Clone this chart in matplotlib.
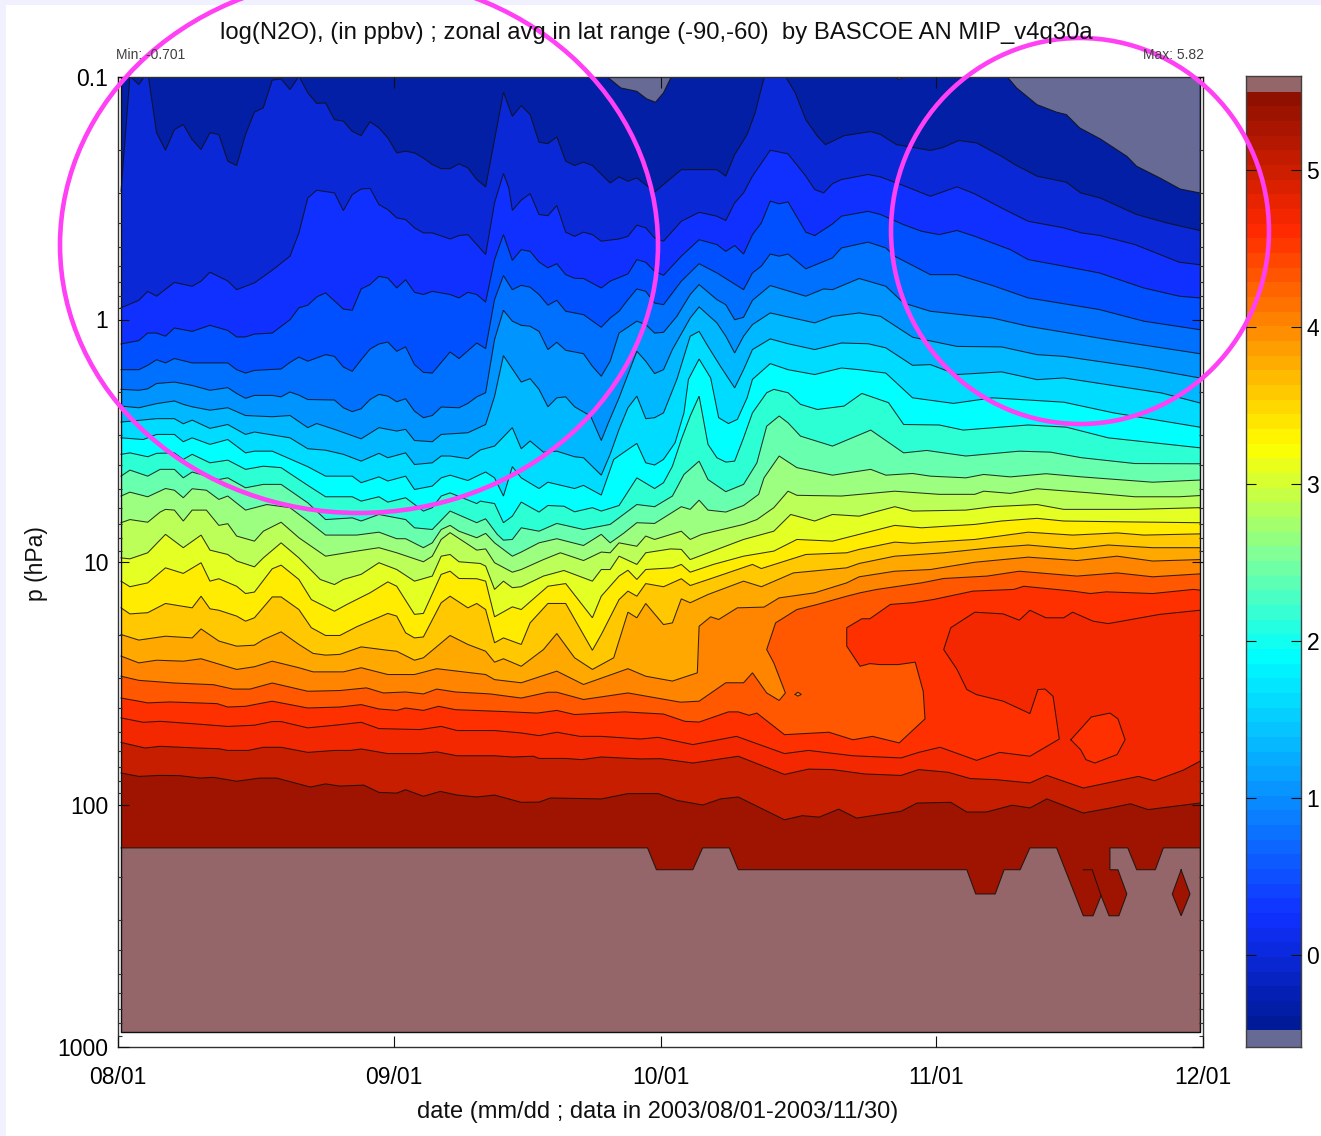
import numpy as np
import matplotlib
matplotlib.use("Agg")
import matplotlib.pyplot as plt
from matplotlib.colors import LinearSegmentedColormap
from matplotlib.patches import Ellipse, Rectangle

plt.rcParams['font.family'] = ['Liberation Sans', 'DejaVu Sans']

W, H = 1321, 1136

#%% isolines of log(N2O): days since the first data column, log10(p in hPa)
days_01 = [0,1,2,3,4,5,6,7,8,9,10,11,12,13,14,15,16,17,18,19,20,21,22,23,24,25,26,27,28,29,30,31,32,33,34,35,36,37,38,39,40,41,42,43,44,45,46,47,48,49,50,51,52,53,55,56,57,58,60,63,67,68,69,70.4,71.3,72.3,72.5,74.5,74.7,75.8,77,78.3,79.2,81.3,84.3,85.4,87.2,89.3,91,92.3,94.2,96.2,99.2,100.5,103,106.3,107.9,110.1,114.2,117.6,121.3]
logp_01 = [-.529,-1.003,-.969,-1.02,-.770,-.698,-.783,-.804,-.742,-.701,-.770,-.763,-.653,-.635,-.763,-.855,-.873,-.987,-.992,-.948,-1.003,-.935,-.891,-.893,-.824,-.818,-.776,-.758,-.815,-.790,-.749,-.687,-.694,-.687,-.666,-.639,-.622,-.622,-.642,-.625,-.577,-.547,-.742,-.937,-.838,-.882,-.845,-.731,-.725,-.753,-.653,-.635,-.649,-.635,-.563,-.588,-.570,-.584,-.526,-.618,-.618,-.591,-.680,-.763,-.852,-.996,-1.01,-1.01,-1.003,-.935,-.824,-.756,-.721,-.758,-.775,-.763,-.721,-.708,-.697,-.708,-.738,-.728,-.669,-.639,-.591,-.566,-.522,-.501,-.433,-.398,-.367]

days_02 = [0,2,3,4,6,8,9,10,12,13,15,17,19,20,21,22,24,25,26,27,28,29,30,31,32,33,34,35,37,38,39,40,41,42,43,43.6,44,45,46,47,48,49,50,51,52,53,54,56,57,58,59,60,61,63,65,67,68,69,70,71,73,75,77,78,79,80,81,84,85.4,88,91,94,96,99,102,106,108,110,114,119,121.3]
logp_02 = [-.048,-.079,-.116,-.096,-.153,-.137,-.158,-.195,-.159,-.123,-.151,-.203,-.261,-.357,-.501,-.533,-.522,-.449,-.515,-.538,-.541,-.474,-.453,-.419,-.412,-.378,-.357,-.357,-.332,-.346,-.350,-.309,-.268,-.481,-.602,-.543,-.450,-.492,-.519,-.433,-.428,-.470,-.360,-.343,-.360,-.350,-.323,-.332,-.343,-.389,-.378,-.336,-.323,-.405,-.442,-.426,-.408,-.481,-.522,-.591,-.698,-.683,-.591,-.536,-.522,-.560,-.577,-.598,-.588,-.552,-.508,-.547,-.518,-.460,-.405,-.378,-.357,-.347,-.309,-.236,-.226]

days_03 = [0,2,3,4,5,6,8,10,12,13,14,15,17,19,20,21,22,23,25,26,27,28,29,30,31,32,33,34,35,37,38,39,40,41,42,43,44,45,46,47,48,49,50,51,52,54,55,57,58,59,60,61,63,65,67,68,69,70,71,72,73,74,75,77,78,80,81,84,85.4,88,90,92,94,96,100,102,106,110,115,119,121.3]
logp_03 = [.101,.087,.056,.056,.069,.035,.049,.024,.045,.072,.072,.060,.056,.001,-.048,-.059,-.093,-.110,-.043,-.038,-.126,-.144,-.178,-.171,-.130,-.164,-.112,-.103,-.116,-.103,-.089,-.112,-.103,-.072,-.247,-.350,-.244,-.288,-.281,-.237,-.213,-.230,-.185,-.170,-.169,-.130,-.158,-.188,-.247,-.236,-.199,-.182,-.261,-.329,-.309,-.281,-.305,-.270,-.350,-.398,-.488,-.477,-.485,-.360,-.346,-.394,-.426,-.446,-.433,-.391,-.364,-.350,-.367,-.343,-.288,-.247,-.220,-.192,-.130,-.096,-.089]

days_04 = [0,2,3,4,5,6,8,12,13,14,15,18,19,20,21,23,24,25,26,27,28,29,30,31,32,33,34,35,37,38,40,41,42,43,44,45,46,47,48,49,50,52,54,55,56,57,58,59,60,61,63,65,67,70,71,72,73,74,75,77,80,81,84,86,87,91,94,98,102,110,115,121.3]
logp_04 = [.207,.207,.189,.166,.179,.161,.179,.179,.207,.221,.210,.204,.177,.155,.172,.145,.152,.196,.214,.166,.122,.101,.093,.131,.113,.186,.218,.221,.134,.161,.097,.120,-.082,-.181,-.123,-.141,-.133,-.103,-.059,-.079,-.034,-.020,.032,-.006,-.034,-.082,-.126,-.116,-.068,-.061,-.158,-.230,-.192,-.123,-.192,-.220,-.270,-.261,-.270,-.209,-.254,-.295,-.319,-.295,-.261,-.185,-.185,-.140,-.089,-.041,.007,.042]

days_05 = [0,2,3,4,6,8,10,12,13,14,15,17,18,19,20,21,24,25,26,27,28,29,30,31,32,33,34,35,36,38,39,40,41,42,43,44,45,46,47,48,49,50,52,53,54,55,56,58,59,60,61,62.5,64,65,67,68,69,70,71,73,77,79,80,83,86,88,91,98,102,111,121.3]
logp_05 = [.288,.292,.286,.264,.258,.272,.292,.281,.305,.325,.313,.313,.319,.299,.312,.330,.332,.364,.380,.368,.330,.309,.316,.339,.327,.378,.405,.396,.361,.364,.346,.319,.302,.083,-.038,.007,.024,.028,.049,.124,.094,.127,.141,.193,.234,.172,.056,.007,.021,.056,.053,-.013,-.103,-.144,-.082,-.061,.001,-.009,-.079,-.140,-.096,-.126,-.123,-.169,-.137,-.068,-.034,-.006,.028,.083,.141]

days_06 = [0,2,4,6,7,8,10,12,14,17,19,21,22,24,27,29,31,32,33,35,36,39,41,42,43,45,46,47,48,49,50,51,52.8,54,54.8,56,58,59,60,61,62,64,65,67,68,69,70,71,73,78,80,83,85.4,89,94,99,103,106,115,121.3]
logp_06 = [.357,.364,.347,.336,.350,.360,.374,.364,.396,.401,.396,.446,.429,.453,.492,.446,.460,.453,.499,.504,.474,.467,.433,.317,.149,.258,.244,.288,.360,.323,.319,.360,.398,.499,.426,.323,.131,.172,.223,.207,.124,-.006,-.052,.014,.069,.138,.069,.021,-.027,.014,-.013,-.027,-.013,.073,.111,.113,.145,.152,.200,.241]

days_07 = [0,4,6,7,8,10,12,14,15,19,21,23,25,27,29,30,32,33,35,36,37,39,40.4,42,44,45,46,47.5,49,51,52,54,55,56,57,58,59,60,61,62.5,64,65,66,67.4,69,70,71,73,75,78,81,84,86,89,91,94,99,103,106,117,121.3]
logp_07 = [.423,.409,.409,.430,.415,.449,.433,.474,.464,.488,.533,.539,.556,.584,.552,.570,.550,.598,.591,.563,.563,.574,.538,.522,.446,.533,.501,.547,.543,.566,.570,.642,.556,.453,.364,.316,.409,.405,.385,.247,.069,.049,.111,.193,.282,.207,.124,.080,.100,.124,.097,.100,.117,.189,.186,.227,.216,.248,.241,.303,.344]

days_08 = [0,2.5,4,6,7,8,10,12,14,15,17,21,23,26,27,29,30,32,33,35,36,37,39,40.4,41,42,43,44,45,47,48,51,52,54,55.4,57,58,59,60,61,62.3,63.3,63.8,65,66.3,67.2,68.3,69.3,70.4,71,73,75,78,81,83,86,89,93.6,98,106,111.6,121.3]
logp_08 = [.488,.495,.474,.474,.504,.488,.515,.495,.550,.543,.543,.607,.646,.646,.673,.649,.666,.646,.701,.687,.653,.642,.664,.639,.629,.653,.728,.607,.653,.697,.671,.697,.684,.724,.577,.536,.511,.591,.600,.577,.508,.385,.247,.163,.241,.405,.429,.412,.323,.247,.182,.207,.227,.200,.207,.221,.323,.346,.323,.341,.385,.444]

days_09 = [0,1,3,4,6,7,8,10,12,14,16,18,21,23,26,27,29,30,32,34,35,36,37,40,40.4,42,43,44,45,47,48,49.8,51,53,54,56,58,60,61,62,63,64,65,66,67,68,69,70,71,72.6,73.4,75,76.4,78.3,81.3,83.3,86.3,88,92,94.7,102,106.3,111,121.3]
logp_09 = [.556,.550,.566,.552,.550,.577,.556,.591,.580,.618,.605,.611,.684,.731,.731,.749,.731,.753,.735,.790,.776,.728,.715,.759,.749,.759,.838,.811,.753,.794,.767,.770,.793,.776,.790,.767,.653,.697,.673,.605,.495,.398,.316,.515,.570,.588,.584,.488,.385,.302,.288,.302,.350,.371,.357,.305,.343,.433,.435,.456,.435,.444,.488,.529]

days_10 = [0,1,3,4.4,6,7,8,11,12,14,16,18,21,23,26,27,29,32,33,35,37,40,40.4,41,42.3,43,44,45,47,49,52,55,58,60,62,63.3,65,66,68,70,71.5,72.6,74,75,76.4,80,84.3,85.4,88,90.6,95,101,104.5,108,114,121.3]
logp_10 = [.646,.621,.646,.618,.618,.653,.629,.660,.653,.694,.680,.680,.756,.825,.818,.831,.804,.825,.859,.866,.790,.838,.831,.822,.886,.910,.907,.859,.873,.841,.866,.845,.763,.772,.728,.639,.584,.660,.710,.680,.591,.440,.398,.426,.481,.522,.456,.484,.550,.540,.563,.543,.547,.570,.594,.595]

days_11 = [0,1,3,5,6,7,8,9.6,11,12,14,16.4,19,21,23,26.5,29,31,32,34,35,36,37,38,40,41,42,44,45,47,49,52,54,55,56.5,58,60,63,64,65,66,68,70,71.7,72.3,74,76,80,84.3,86,89,91,95,97,100,104,108,116,121.3]
logp_11 = [.728,.712,.731,.697,.704,.735,.698,.704,.742,.728,.786,.763,.776,.831,.889,.889,.877,.904,.904,.941,.921,.866,.849,.873,.900,.882,.921,.976,.959,.921,.904,.932,.886,.921,.882,.838,.841,.772,.783,.745,.786,.794,.767,.721,.653,.563,.611,.642,.618,.642,.635,.646,.653,.639,.649,.636,.649,.671,.662]

days_12 = [0,1,3,4.4,5,6,7,8,9.6,11,12,13,15,16,18,20,23,26.5,29,31,34,35,36,37,40,41,42,44,45,47.5,49.4,52,54,55,56,58,59,60,63,64,65.3,70,71.5,73.4,75,76,81,87,92,96,97,100,103,109,114,119,121.3]
logp_12 = [.838,.825,.836,.794,.783,.786,.831,.786,.786,.849,.842,.893,.914,.873,.836,.900,.976,.955,.941,.962,.999,.976,.907,.879,.951,.946,1.003,1.042,1.031,.990,.962,.994,.959,.962,.921,.935,.893,.907,.873,.907,.886,.845,.825,.776,.708,.725,.728,.708,.721,.721,.708,.717,.698,.715,.731,.731,.726]

days_13 = [0,1,3,5,7,9,10,12,13,15,16,18,20,22.4,24,25,27,29,31,33,35,36,37,38,40.4,41,42,43,44,45,47.5,49.8,53,54,55,56,58,59,61.8,63,64,70,73.4,75.3,78,80,83,87,89,95,98,103,106,114,121.3]
logp_13 = [.983,.987,.962,.886,.941,.889,.951,.969,.996,1.020,.983,.921,.983,1.072,1.093,1.072,1.051,1.003,1.031,1.079,1.058,.976,.969,.999,1.006,1.017,1.113,1.079,1.106,1.102,1.058,1.035,1.079,1.031,1.031,.976,1.010,.962,.946,.948,.990,.907,.873,.804,.831,.804,.811,.772,.790,.786,.772,.763,.783,.783,.776]

days_14 = [0,1,3,5,7,9,10,11,13,14,15,17,18,20,21.4,24,25.4,28,30,31,33,34,36,37,38,40,41,42,44,45,48,50,53,54,56,57,58,59,62,63,64,66.6,70,73.4,76,80,83,87,90,96,99,103,106,114,121.3]
logp_14 = [1.079,1.102,1.086,1.024,1.047,1.003,1.079,1.069,1.100,1.130,1.124,1.028,1.013,1.072,1.155,1.203,1.175,1.127,1.082,1.100,1.216,1.212,1.051,1.038,1.068,1.069,1.079,1.226,1.185,1.196,1.100,1.089,1.230,1.141,1.058,1.034,1.072,1.031,1.024,1.010,1.042,1.010,.976,.955,.907,.914,.886,.849,.859,.845,.831,.820,.831,.835,.838]

days_15 = [0,1,3,5,8,9,10,11,13,14,15,17,18,20,21.4,23,24.6,26.5,30,31,32,33,34,36,37,39,40,41,42,43,45,46,48,50,53,54,56,57,58,59,61,63,64,66.6,71,72,77,81.6,83,87,89,96,102,107,112,115,121.3]
logp_15 = [1.189,1.214,1.209,1.171,1.189,1.141,1.193,1.199,1.223,1.244,1.230,1.144,1.144,1.196,1.271,1.303,1.303,1.267,1.212,1.223,1.292,1.313,1.309,1.168,1.141,1.189,1.171,1.196,1.333,1.313,1.340,1.251,1.171,1.171,1.364,1.299,1.155,1.120,1.141,1.089,1.102,1.069,1.097,1.065,1.010,1.027,.969,.962,.948,.918,.923,.907,.877,.889,.880,.889,.884]

days_16 = [0,2,5,8,9,11,13,15,16,18,20,21.6,23,24.6,27,30,31,33,34,37,39,41,42,43,45,47.5,49,51,53,55.4,57,58,59,61,62,63,64,66,70,72,75.6,81.6,83,87,92.5,98,102,107,111,116,121.3]
logp_16 = [1.299,1.322,1.306,1.313,1.276,1.326,1.347,1.343,1.320,1.288,1.340,1.377,1.384,1.381,1.350,1.364,1.368,1.405,1.395,1.303,1.340,1.368,1.413,1.399,1.430,1.361,1.295,1.395,1.443,1.395,1.207,1.230,1.171,1.258,1.251,1.152,1.168,1.134,1.079,1.102,1.045,1.024,1.006,.976,.962,.941,.930,.946,.930,.941,.941]

days_17 = [0,2,4,7,9,13,15,17,20,21.6,25,27,30,33,35.5,41,42,45,49,52,57,59,62,64.8,65,66.3,67.2,69.3,72.3,74,78,81.6,83,87,91,96,102,107.5,112,116,121.3]
logp_17 = [1.388,1.416,1.405,1.409,1.399,1.443,1.432,1.409,1.436,1.453,1.453,1.436,1.464,1.464,1.440,1.464,1.485,1.498,1.450,1.505,1.440,1.471,1.491,1.457,1.265,1.226,1.237,1.189,1.186,1.148,1.127,1.086,1.061,1.038,1.031,1.001,.980,.994,.976,.996,.990]

days_18 = [0,2,6,10.4,12.6,14.5,17,21,24.6,27.6,29.5,32,34,35.5,37.6,41.5,45,48,49,52,57,62.9,65,68,70,71,72.6,74,74.7,73.4,72.6,73.6,76,78.3,81.6,83.1,85,90,92.5,97.4,101,107.5,112,116,121.3]
logp_18 = [1.471,1.488,1.499,1.506,1.524,1.524,1.499,1.533,1.530,1.519,1.540,1.536,1.544,1.524,1.536,1.544,1.561,1.537,1.537,1.567,1.540,1.578,1.574,1.498,1.498,1.457,1.540,1.571,1.540,1.416,1.361,1.251,1.196,1.175,1.141,1.127,1.113,1.086,1.068,1.058,1.038,1.058,1.045,1.061,1.049]

days_19 = [0,2,3,5.5,10.8,12,14,17,21,24.6,27,29,31,32,34,35.7,37.6,42.6,46.8,49,51,54,56.6,61,63.4,65,68.3,69.4,70.6,71.5,74.6,79.6,82.3,84.5,87.5,90.4,90.2,89.3,87.4,85.3,84.2,83.1,81.6,81.6,83.3,84.2,86.5,89,91.3,95.8,100.4,101.5,107,109,110.8,116,120.6,121.3]
logp_19 = [1.561,1.574,1.581,1.577,1.584,1.598,1.595,1.574,1.602,1.598,1.588,1.606,1.612,1.602,1.612,1.595,1.609,1.616,1.623,1.612,1.629,1.623,1.618,1.627,1.657,1.660,1.618,1.618,1.632,1.623,1.712,1.702,1.733,1.719,1.746,1.647,1.533,1.413,1.423,1.423,1.419,1.430,1.347,1.271,1.234,1.234,1.175,1.168,1.155,1.120,1.113,1.100,1.120,1.130,1.123,1.130,1.113,1.116]

days_20 = [0,2.5,4.4,8.5,12,15,17,18,21,24.6,27,29,33.6,36,37.8,42,45,47,49,51.6,54,58.4,60.4,64.3,69.2,74.6,77.3,82.3,87.7,89.7,92.1,96.2,98.8,102.2,105.5,104.8,103.9,103.1,102.2,99.2,96.2,95.1,94,92.5,93.3,96,99.2,101,102.2,104,106,107,109.3,111,116.8,121.3]
logp_20 = [1.643,1.661,1.657,1.668,1.678,1.673,1.658,1.658,1.684,1.671,1.661,1.687,1.691,1.678,1.695,1.695,1.705,1.716,1.702,1.719,1.719,1.730,1.723,1.753,1.719,1.790,1.777,1.799,1.808,1.785,1.764,1.818,1.785,1.801,1.730,1.554,1.524,1.526,1.625,1.574,1.547,1.526,1.443,1.361,1.271,1.207,1.214,1.240,1.199,1.230,1.230,1.207,1.244,1.254,1.216,1.199]

days_21 = [0,2.7,4.4,8.5,11,12,14.3,16,18,21,24,25.8,27,30,33.6,35.5,37.8,42,44,46.4,47,50,51.8,54,58.4,60.7,64.3,69.4,74.6,77.3,80,83.6,87.7,89.7,93,95.5,98.5,102.2,104.1,108.2,114.4,116.2,119.4,121.3]
logp_21 = [1.744,1.767,1.760,1.767,1.770,1.777,1.777,1.764,1.764,1.785,1.777,1.777,1.771,1.790,1.790,1.783,1.799,1.799,1.804,1.801,1.810,1.810,1.815,1.804,1.812,1.811,1.829,1.801,1.876,1.854,1.856,1.874,1.880,1.856,1.867,1.893,1.898,1.911,1.880,1.932,1.884,1.902,1.859,1.822]

days_22 = [0,2,4.4,6.6,8.9,10.4,13,15.6,17.5,21.3,23,24.6,27.3,29,31,32,34,35.9,37.8,40,42,45,47,48.3,54,57,60.4,62.5,65.4,67.4,69.4,74.6,76.6,78.5,80.7,82.7,87.7,89.5,93.3,95.1,97.3,100.2,102.2,104.1,108.2,111.3,113.5,115.5,121.3]
logp_22 = [1.870,1.884,1.880,1.881,1.891,1.888,1.904,1.891,1.891,1.928,1.915,1.924,1.920,1.950,1.953,1.939,1.966,1.946,1.961,1.969,1.961,1.991,1.990,1.973,1.977,1.955,1.955,1.983,2.002,1.977,1.969,2.063,2.046,2.052,2.019,2.056,2.028,1.994,1.991,2.031,2.031,2.003,2.014,1.977,2.035,2.014,1.997,2.021,1.994]

# closed contours
blob_days = [106.8,109.1,111.2,112.1,112.9,112,109.5,108.5,107.9]
blob_logp = [1.733,1.639,1.623,1.647,1.733,1.794,1.829,1.815,1.774]
speck_days = [75.8,76.1,76.5,76.1]
speck_logp = [1.546,1.537,1.546,1.553]

# values under the lowest level at the top of the plot
low1_days = [54.6,56.2,58,59.1,60.1,61,61.9]
low1_logp = [-1.003,-.955,-.941,-.910,-.896,-.935,-1.003]
low2_days = [87,87.5,88.2]
low2_logp = [-1.003,-.99,-1.003]
low3_days = [99.6,100.7,103,105.2,106.3,107.8,110.1,113.1,114.2,116.8,119.1,121.3,121.3]
low3_logp = [-1.003,-.955,-.886,-.855,-.845,-.790,-.745,-.673,-.632,-.584,-.538,-.522,-1.003]

# lower edge of the valid data
edge_days = [0,59.2,60.2,64.3,65.4,68.4,69.4,95.1,96.1,98.3,99.3,101.1,102.2,105.2,108.2,109.3,110.2,111.1,112.2,113.1,112.1,111.2,111.2,113.2,114.2,116.3,117.2,121.3]
edge_logp = [2.179,2.179,2.269,2.269,2.179,2.179,2.269,2.269,2.369,2.369,2.269,2.269,2.179,2.179,2.459,2.459,2.376,2.459,2.459,2.369,2.269,2.269,2.179,2.179,2.269,2.269,2.179,2.179]
slit_days = [108.2,109.2,110.2]
slit_logp = [2.269,2.269,2.376]
isle_days = [119.2,120.2,119.2,118.2]
isle_logp = [2.269,2.369,2.459,2.369]

band_colors = ['#021fa6','#0a28d6','#1030ff','#0050ff','#0070ff','#0094ff','#00b8ff','#00dcff',
               '#00ffff','#2cffd4','#68ffae','#9cff80','#bcff58','#e4ff24','#ffec00','#ffc800',
               '#ffa800','#ff8400','#ff5800','#ff3000','#f42800','#c81e00','#9e1400']
over_color = '#946669'
under_color = '#666a94'

date_ticks = [0, 31, 61, 92, 122]
date_labels = ['08/01', '09/01', '10/01', '11/01', '12/01']
p_ticks = [0.1, 1, 10, 100, 1000]
p_labels = ['0.1', '1', '10', '100', '1000']
cbar_ticks = [0, 1, 2, 3, 4, 5]

t0 = 0.34      # first data column, days after 08/01
t_last = 121.3
p_bottom = 10 ** 2.94

iso_days = [days_01,days_02,days_03,days_04,days_05,days_06,days_07,days_08,days_09,days_10,days_11,
            days_12,days_13,days_14,days_15,days_16,days_17,days_18,days_19,days_20,days_21,days_22]
iso_logp = [logp_01,logp_02,logp_03,logp_04,logp_05,logp_06,logp_07,logp_08,logp_09,logp_10,logp_11,
            logp_12,logp_13,logp_14,logp_15,logp_16,logp_17,logp_18,logp_19,logp_20,logp_21,logp_22]

#%% figure
def box(x0, y0, x1, y1):
    return [x0 / W, 1 - y1 / H, (x1 - x0) / W, (y1 - y0) / H]

fig = plt.figure(figsize=(W / 100, H / 100), dpi=100, facecolor='white')
fig.add_artist(Rectangle((0, 0), 6 / W, 1, transform=fig.transFigure, color='#f0f0ff', lw=0))
fig.add_artist(Rectangle((0, 1 - 5 / H), 1, 5 / H, transform=fig.transFigure, color='#f0f0ff', lw=0))

ax = fig.add_axes(box(118, 77, 1203, 1047))
ax.set_yscale('log')
ax.set_xlim(0, 122)
ax.set_ylim(1000, 0.1)

line_kw = dict(color='#101010', lw=0.75, alpha=0.85, solid_joinstyle='miter')

def xs(d):
    return np.array(d, dtype=float) + t0

def ps(lp):
    return 10 ** np.array(lp, dtype=float)

# layers are painted from the top of the atmosphere down
ax.fill([t0, t0 + t_last, t0 + t_last, t0], [0.1, 0.1, p_bottom, p_bottom], color=band_colors[0], lw=0)
for i, (d, lp) in enumerate(zip(iso_days, iso_logp)):
    ax.fill(np.r_[xs(d), t0 + t_last, t0], np.r_[ps(lp), p_bottom, p_bottom], color=band_colors[i + 1], lw=0)

ax.fill(xs(blob_days), ps(blob_logp), color=band_colors[19], lw=0)
ax.fill(xs(speck_days), ps(speck_logp), color=band_colors[17], lw=0)
for d, lp in [(low1_days, low1_logp), (low2_days, low2_logp), (low3_days, low3_logp)]:
    ax.fill(xs(d), ps(lp), color=under_color, lw=0)
ax.fill(np.r_[xs(edge_days), t0 + t_last, t0], np.r_[ps(edge_logp), p_bottom, p_bottom], color=over_color, lw=0)
ax.fill(xs(isle_days), ps(isle_logp), color=band_colors[22], lw=0)

for d, lp in zip(iso_days, iso_logp):
    ax.plot(xs(d), ps(lp), **line_kw)
for d, lp in [(blob_days, blob_logp), (speck_days, speck_logp), (isle_days, isle_logp)]:
    ax.plot(np.r_[xs(d), xs(d)[0]], np.r_[ps(lp), ps(lp)[0]], **line_kw)
for d, lp in [(low1_days, low1_logp), (low2_days, low2_logp), (low3_days[:-1], low3_logp[:-1]),
              (edge_days, edge_logp), (slit_days, slit_logp)]:
    ax.plot(xs(d), ps(lp), **line_kw)
ax.plot([t0, t0, t0 + t_last, t0 + t_last], [0.1, p_bottom, p_bottom, 0.1], color='#101010', lw=1.0)

ax.set_axisbelow(False)
ax.set_xticks(date_ticks)
ax.set_xticklabels(date_labels)
ax.set_yticks(p_ticks)
ax.set_yticklabels(p_labels)
ax.minorticks_on()
ax.xaxis.set_minor_locator(plt.NullLocator())
ax.yaxis.set_minor_formatter(plt.NullFormatter())
ax.tick_params(axis='both', which='major', direction='in', top=True, right=True, length=8, width=0.8,
               labelsize=16.5, color='#101010')
ax.tick_params(axis='y', which='minor', direction='in', left=True, right=True, length=3, width=0.8, color='#303030')
ax.tick_params(axis='x', which='major', pad=14)
ax.tick_params(axis='y', which='major', pad=7)
for s in ax.spines.values():
    s.set_linewidth(1.0)
    s.set_color('#303030')

# colour bar
cax = fig.add_axes(box(1246, 76, 1301, 1047))
cmap = LinearSegmentedColormap.from_list('n2o', [(0.0, '#001a98'), (0.117, '#1030ff'), (0.398, '#00ffff'),
                                                 (0.506, '#80ff98'), (0.624, '#ffff00'), (0.859, '#ff2800'),
                                                 (1.0, '#901000')], N=64)
levels = np.linspace(-0.48, 5.5, 65)
cax.set_xlim(0, 1)
cax.set_ylim(-0.586, 5.6)
cax.pcolormesh([0, 1], levels, 0.5 * (levels[:-1] + levels[1:])[:, None], cmap=cmap, vmin=-0.48, vmax=5.5)
cax.axhspan(5.5, 5.6, color=over_color, lw=0)
cax.axhspan(-0.586, -0.48, color=under_color, lw=0)
cax.set_xticks([])
cax.set_yticks(cbar_ticks)
cax.yaxis.tick_right()
cax.set_axisbelow(False)
cax.tick_params(axis='y', direction='in', left=True, right=True, length=7, width=0.8, labelsize=16.5, pad=4, color='#101010')
for s in cax.spines.values():
    s.set_linewidth(1.0)
    s.set_color('#404040')

# texts
def put(x, y, s, **kw):
    fig.text(x / W, 1 - y / H, s, va='center', **kw)

put(656, 33, 'log(N2O), (in ppbv) ; zonal avg in lat range (-90,-60)  by BASCOE AN MIP_v4q30a',
    ha='center', fontsize=17.2, color='#101010')
put(116, 55, 'Min: -0.701', ha='left', fontsize=10, color='#404040')
put(1204, 55, 'Max: 5.82', ha='right', fontsize=10, color='#404040')
put(658, 1112, 'date (mm/dd ; data in 2003/08/01-2003/11/30)', ha='center', fontsize=17, color='#101010')
put(36, 564, 'p (hPa)', ha='center', fontsize=16.5, rotation=90, color='#101010')

# hand drawn circles laid over the chart
for cx, cy, w, h in [(359, 245, 598, 536), (1080, 231, 378, 386)]:
    fig.add_artist(Ellipse((cx / W, 1 - cy / H), w / W, h / H, transform=fig.transFigure,
                           fill=False, edgecolor='#ff40f4', lw=3.3))

fig.savefig('out.png', dpi=100)
